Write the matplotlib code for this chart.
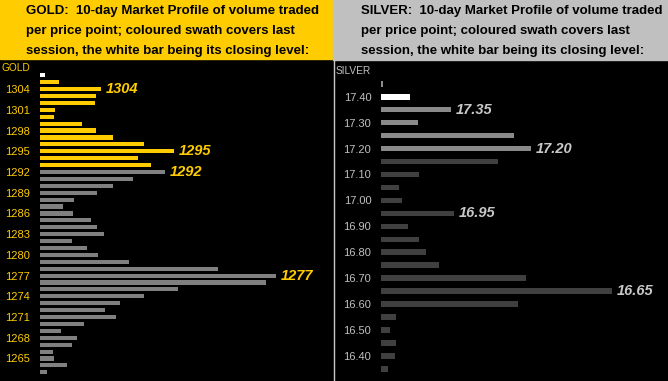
import matplotlib.pyplot as plt
from matplotlib.patches import Rectangle
from matplotlib.lines import Line2D

plt.rcParams["font.family"] = ["Liberation Sans", "DejaVu Sans"]

# Gold: one row per dollar, top (1306) to bottom (1263)
gold_prices = list(range(1306, 1262, -1))
gold_volume = [5, 19, 61, 56, 55, 15, 14, 42, 56, 73, 104, 134, 98, 111,
               125, 93, 73, 57, 34, 23, 33, 51, 57, 64, 32, 47, 58, 89,
               178, 236, 226, 138, 104, 80, 65, 76, 44, 21, 37, 32, 13, 14,
               27, 7]
gold_close = 1306
gold_session_low = 1293
gold_ticks = list(range(1304, 1264, -3))
gold_marks = [1304, 1295, 1292, 1277]

# Silver: one row per 5 cents, top (17.45) to bottom (16.35)
silver_prices = [round(17.45 - 0.05 * i, 2) for i in range(23)]
silver_volume = [2, 29, 70, 37, 133, 150, 117, 38, 18, 21, 73, 27, 38, 45,
                 58, 145, 231, 137, 15, 9, 15, 14, 7]
silver_close = 17.40
silver_session_low = 17.20
silver_ticks = [17.40, 17.30, 17.20, 17.10, 17.00, 16.90, 16.80, 16.70,
                16.60, 16.50, 16.40]
silver_marks = [17.35, 17.20, 16.95, 16.65]

W, H = 668, 381
fig = plt.figure(figsize=(W / 100, H / 100), dpi=100, facecolor="black")

GOLD = "#ffcc00"


def px_axes(x0, y0, x1, y1):
    return fig.add_axes([x0 / W, 1 - y1 / H, (x1 - x0) / W, (y1 - y0) / H])


# header boxes
fig.patches.append(Rectangle((0, 1 - 59 / H), 333 / W, 59 / H,
                             transform=fig.transFigure, color=GOLD, zorder=0))
fig.patches.append(Rectangle((333 / W, 1 - 60 / H), 335 / W, 60 / H,
                             transform=fig.transFigure, color="#c0c0c0",
                             zorder=0))
fig.lines.append(Line2D([333.5 / W, 333.5 / W], [0, 1 - 60 / H],
                        transform=fig.transFigure, color="#c8c8c8", lw=1))

hdr = ["{}:  10-day Market Profile of volume traded",
       "per price point; coloured swath covers last",
       "session, the white bar being its closing level:"]
for name, x in [("GOLD", 26), ("SILVER", 361)]:
    for i, line in enumerate(hdr):
        fig.text(x / W, 1 - (11 + 20 * i) / H, line.format(name),
                 fontsize=9.55, fontweight="bold", color="black",
                 va="center", ha="left")

# ---- gold panel
ax = px_axes(40, 59, 333, 381)
ax.set_facecolor("black")
cols = []
for p in gold_prices:
    if p == gold_close:
        cols.append("white")
    elif p >= gold_session_low:
        cols.append(GOLD)
    else:
        cols.append("#808080")
ax.barh(gold_prices, gold_volume, height=0.6, color=cols)
ax.set_xlim(0, 293)
ax.set_ylim(1261.74, 1308.36)
ax.set_yticks(gold_ticks)
ax.set_yticklabels([str(t) for t in gold_ticks], color=GOLD, fontsize=8)
ax.tick_params(axis="y", length=0, pad=7)
ax.set_xticks([])
for s in ax.spines.values():
    s.set_visible(False)
for m in gold_marks:
    v = gold_volume[gold_prices.index(m)]
    ax.annotate(str(m), (v, m), xytext=(3.5, 0), textcoords="offset points",
                color=GOLD, fontsize=10.5, fontweight="bold", style="italic",
                va="center", ha="left")
fig.text(2 / W, 1 - 68 / H, "GOLD", color=GOLD, fontsize=7.3,
         va="center", ha="left")

# ---- silver panel
ax = px_axes(381, 61, 668, 381)
ax.set_facecolor("black")
cols = []
for p in silver_prices:
    if abs(p - silver_close) < 1e-6:
        cols.append("white")
    elif p >= silver_session_low - 1e-6:
        cols.append("#8a8a8a")
    else:
        cols.append("#404040")
ax.barh(silver_prices, silver_volume, height=0.022, color=cols)
ax.set_xlim(0, 287)
ax.set_ylim(16.304, 17.5375)
ax.set_yticks(silver_ticks)
ax.set_yticklabels([f"{t:.2f}" for t in silver_ticks], color="#c0c0c0",
                   fontsize=8)
ax.tick_params(axis="y", length=0, pad=7)
ax.set_xticks([])
for s in ax.spines.values():
    s.set_visible(False)
for m in silver_marks:
    i = min(range(len(silver_prices)), key=lambda k: abs(silver_prices[k] - m))
    ax.annotate(f"{m:.2f}", (silver_volume[i], m), xytext=(3.5, 0),
                textcoords="offset points", color="#c8c8c8", fontsize=10.5,
                fontweight="bold", style="italic", va="center", ha="left")
fig.text(336 / W, 1 - 71 / H, "SILVER", color="#c0c0c0", fontsize=7.3,
         va="center", ha="left")

fig.savefig("out.png", dpi=100, facecolor="black")
